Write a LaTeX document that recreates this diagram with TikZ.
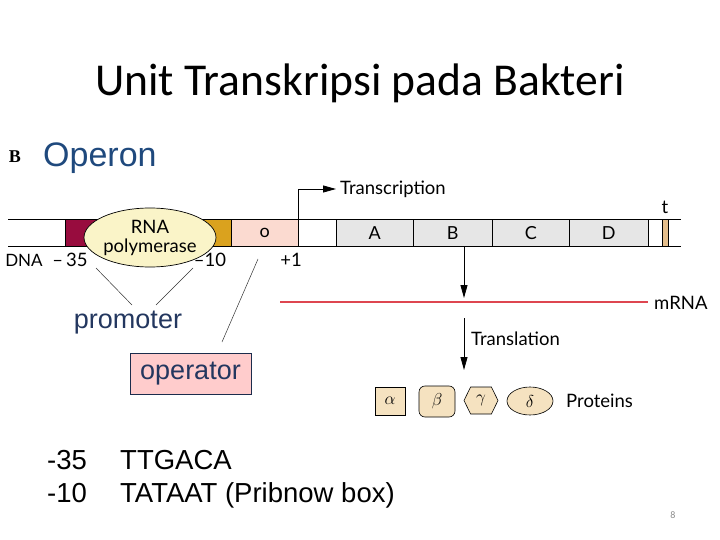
\documentclass[tikz,border=0pt]{standalone}
\usepackage{fontspec}
\setmainfont{Liberation Sans}
\newfontfamily\titlefont{Carlito}
\newfontfamily\figfont{Lato}
\newfontfamily\serifB{Liberation Serif}
\usetikzlibrary{arrows.meta,shapes.geometric,shapes.symbols}
\definecolor{maroon}{RGB}{152,12,62}
\definecolor{gold}{RGB}{218,162,30}
\definecolor{opink}{RGB}{251,218,208}
\definecolor{gengrey}{RGB}{230,230,230}
\definecolor{tstripe}{RGB}{228,190,140}
\definecolor{protfill}{RGB}{245,226,192}
\definecolor{polfill}{RGB}{250,244,200}
\definecolor{mrnared}{RGB}{222,70,80}
\definecolor{opblue}{RGB}{31,73,125}
\definecolor{promblue}{RGB}{35,55,95}
\definecolor{oppink}{RGB}{255,204,204}
\begin{document}
\begin{tikzpicture}[x=1pt,y=-1pt,
  seg/.style={draw=black,line width=0.6pt,inner sep=0pt,minimum height=27pt,anchor=north west,font=\figfont\fontsize{18}{20}\selectfont},
  lab/.style={font=\figfont\fontsize{18.5}{20}\selectfont,inner sep=0pt},
  bigtxt/.style={font=\fontsize{27.5}{30}\selectfont,inner sep=0pt,anchor=base west},
  tip/.style={-{Triangle[length=13pt,width=7pt]},line width=0.8pt},
  prot/.style={draw=black,line width=0.6pt,fill=protfill,inner sep=0pt,font=\fontsize{19}{20}\selectfont},
  thin/.style={line width=0.5pt,draw=black!80}]
\useasboundingbox (0,0) rectangle (720,540);
% title
\node[font=\titlefont\fontsize{45.6}{50}\selectfont,inner sep=0pt] (title) at (360,83) {Unit Transkripsi pada Bakteri};
\node[font=\serifB\bfseries\fontsize{18}{18}\selectfont,inner sep=0pt] (B) at (15,157) {B};
\node[font=\fontsize{34}{36}\selectfont,text=opblue,inner sep=0pt,anchor=west] (operon) at (43,158) {Operon};
% DNA segments
\node[seg,fill=maroon,minimum width=35pt] (m35) at (65,219) {};
\node[seg,fill=gold,minimum width=31pt] (m10) at (200,219) {};
\node[seg,fill=opink,minimum width=67pt] (o) at (231,219) {o};
\node[seg,minimum width=38pt] (gap) at (298,219) {};
\node[seg,fill=gengrey,minimum width=77pt] (A) at (336,219) {A};
\node[seg,fill=gengrey,minimum width=79pt] (Bg) at (413,219) {B};
\node[seg,fill=gengrey,minimum width=77pt] (C) at (492,219) {C};
\node[seg,fill=gengrey,minimum width=79pt] (D) at (569,219) {D};
\node[seg,minimum width=13.7pt] (gap2) at (648,219) {};
\node[seg,fill=tstripe,minimum width=6.6pt] (term) at (661.7,219) {};
\coordinate (dnaL1) at (8,219);
\coordinate (dnaR1) at (681,219);
\coordinate (dnaL2) at (8,246);
\coordinate (dnaR2) at (681,246);
\draw[line width=0.8pt] (dnaL1) -- (dnaR1);
\draw[line width=0.8pt] (dnaL2) -- (dnaR2);
\node[lab] (t) at (665,207) {t};
% RNA polymerase
\node[ellipse,draw=black,line width=0.7pt,fill=polfill,minimum width=116pt,minimum height=59pt,inner sep=0pt,
  align=center,font=\figfont\fontsize{18.5}{19}\selectfont] (pol) at (150,237.5) {RNA\\polymerase};
% labels under DNA
\node[lab,font=\figfont\fontsize{17}{20}\selectfont] (dna) at (24,260) {DNA};
\node[lab] (l35) at (70,260) {–\,35};
\node[lab] (l10) at (210,260) {–10};
\node[lab] (l1) at (291,260) {+1};
% transcription
\coordinate (tsstart) at (298,219);
\coordinate (tsend) at (336,189);
\draw[tip] (tsstart) |- (tsend);
\node[lab,anchor=west] (transcription) at (340,189) {Transcription};
% down arrow to mRNA
\coordinate (mdown) at (464,298);
\draw[tip] (464,246) -- (mdown);
\coordinate (mrnaL) at (280,302);
\coordinate (mrnaR) at (648,302);
\draw[mrnared,line width=1.3pt] (mrnaL) -- (mrnaR);
\node[lab,anchor=west] (mrna) at (654,303) {mRNA};
% translation
\coordinate (trs) at (464,318);
\coordinate (tre) at (464,370);
\draw[tip] (trs) -- (tre);
\node[lab,anchor=west] (translation) at (471,339) {Translation};
% proteins
\node[prot,rectangle,minimum width=30pt,minimum height=28pt] (alpha) at (390,401) {$\alpha$};
\node[prot,rectangle,rounded corners=6pt,minimum width=36pt,minimum height=31pt] (beta) at (437,401.5) {$\beta$};
\node[prot,signal,signal to=east and west,signal pointer angle=128,minimum width=34pt,minimum height=27pt] (gamma) at (481,400.5) {$\gamma$};
\node[prot,ellipse,minimum width=46pt,minimum height=28pt] (delta) at (530,401) {$\delta$};
\node[lab,anchor=west] (proteins) at (566,401) {Proteins};
% promoter / operator
\node[font=\fontsize{27}{30}\selectfont,text=promblue,inner sep=0pt] (promoter) at (128,323) {promoter};
\node[draw=promblue!80!black,line width=0.7pt,fill=oppink,minimum width=121pt,minimum height=41pt,inner sep=0pt,
  font=\fontsize{27}{30}\selectfont,text=promblue] (operator) at (190.5,373.5) {operator};
\coordinate (p1a) at (96,268);
\coordinate (p1b) at (132,305);
\coordinate (p2a) at (193,268);
\coordinate (p2b) at (156,305);
\coordinate (o1a) at (258,259);
\coordinate (o1b) at (222,342);
\draw[thin] (p1a) -- (p1b);
\draw[thin] (p2a) -- (p2b);
\draw[thin] (o1a) -- (o1b);
% bottom text
\node[bigtxt] (n35) at (47,469) {-35};
\node[bigtxt] (s35) at (120,469) {TTGACA};
\node[bigtxt] (n10) at (47,502) {-10};
\node[bigtxt] (s10) at (120,502) {TATAAT (Pribnow box)};
\node[font=\titlefont\fontsize{10}{12}\selectfont,text=black!45,inner sep=0pt] (pg) at (673,515) {8};
\end{tikzpicture}
\end{document}
